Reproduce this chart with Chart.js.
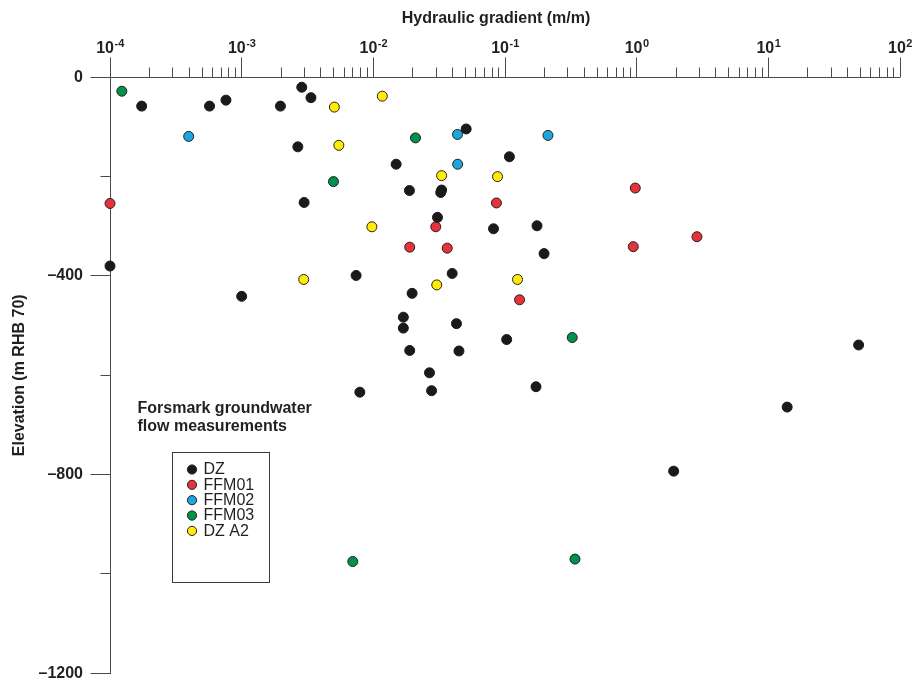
<!DOCTYPE html>
<html>
<head>
<meta charset="utf-8">
<script src="https://cdn.jsdelivr.net/npm/chart.js@4.4.1/dist/chart.umd.min.js"></script>
<style>
  html, body { margin: 0; padding: 0; background: #ffffff; }
  #wrap { width: 914px; height: 682px; }
</style>
</head>
<body>
<div id="wrap"><canvas id="chart" width="914" height="682"></canvas></div>
<script>
// Forsmark groundwater flow: hydraulic gradient (m/m) against elevation (m RHB 70)

const dzGradient = [1.74e-4, 5.7e-4, 7.6e-4, 1.97e-3, 2.86e-3, 3.36e-3, 2.67e-3, 0.0507, 0.108, 0.0149,
  2.98e-3, 0.0188, 0.033, 0.0325, 0.0307, 0.0818, 0.175, 0.198, 1.0e-4, 7.4e-3,
  0.0397, 1.0e-3, 0.0197, 0.0169, 0.0169, 0.0428, 0.103, 48.5, 0.0189, 0.0447,
  0.0267, 0.172, 7.9e-3, 0.0277, 13.9, 1.91];
const dzElevation = [-58, -58, -46, -58, -20, -41, -140, -104, -160, -175,
  -252, -228, -227, -232, -282, -305, -299, -355, -380, -399,
  -395, -441, -435, -483, -505, -496, -528, -539, -550, -551,
  -595, -623, -634, -631, -664, -793];

const ffm01Gradient = [1.0e-4, 0.976, 0.0861, 0.0298, 2.87, 0.0189, 0.0364, 0.942, 0.129];
const ffm01Elevation = [-254, -223, -253, -301, -321, -342, -344, -341, -448];

const ffm02Gradient = [3.96e-4, 0.0436, 0.212, 0.0437];
const ffm02Elevation = [-119, -115, -117, -175];

const ffm03Gradient = [1.23e-4, 0.0209, 4.98e-3, 0.324, 6.98e-3, 0.340];
const ffm03Elevation = [-28, -122, -210, -524, -975, -970];

const dzA2Gradient = [5.06e-3, 0.0117, 5.47e-3, 0.033, 0.0877, 9.75e-3, 2.96e-3, 0.0303, 0.1245];
const dzA2Elevation = [-60, -38, -137, -198, -200, -301, -407, -418, -407];

const seriesNames = ['DZ', 'FFM01', 'FFM02', 'FFM03', 'DZ A2'];
const seriesColors = ['#1a1a1a', '#e6333a', '#1ba6dd', '#00914a', '#ffec00'];

// Axis ticks and labels
const gradientDecades = [1e-4, 1e-3, 1e-2, 1e-1, 1e0, 1e1, 1e2];
const gradientDecadeExponents = ['-4', '-3', '-2', '-1', '0', '1', '2'];
const gradientMultipliers = [1, 2, 3, 4, 5, 6, 7, 8, 9];
const elevationTicks = [0, -400, -800, -1200];
const elevationTickLabels = ['0', '\u2013400', '\u2013800', '\u20131200'];
const elevationMinorTicks = [-200, -600, -1000];

const xTitle = 'Hydraulic gradient (m/m)';
const yTitle = 'Elevation (m RHB 70)';
const noteLines = ['Forsmark groundwater', 'flow measurements'];

const INK = '#231f20';
const AXIS = '#4a4a4a';
const FONT = "'Liberation Sans', Arial, Helvetica, sans-serif";

function pts(xs, ys) { return xs.map((v, i) => ({ x: v, y: ys[i] })); }

const seriesData = [
  pts(dzGradient, dzElevation),
  pts(ffm01Gradient, ffm01Elevation),
  pts(ffm02Gradient, ffm02Elevation),
  pts(ffm03Gradient, ffm03Elevation),
  pts(dzA2Gradient, dzA2Elevation)
];

const gradientTickValues = [];
gradientDecades.forEach((d, i) => {
  if (i === gradientDecades.length - 1) { gradientTickValues.push(d); return; }
  gradientMultipliers.forEach(m => gradientTickValues.push(m * d));
});

const crisp = v => Math.floor(v) + 0.5;

const frame = {
  id: 'frame',
  beforeDatasetsDraw(chart) {
    const { ctx, chartArea: a, scales: { x, y } } = chart;
    const top = crisp(a.top), left = crisp(a.left);
    ctx.save();
    ctx.strokeStyle = AXIS;
    ctx.lineWidth = 1;
    ctx.beginPath();
    // axis lines
    ctx.moveTo(left, top); ctx.lineTo(Math.ceil(a.right), top);
    ctx.moveTo(left, top); ctx.lineTo(left, Math.ceil(a.bottom));
    // gradient ticks (upwards)
    x.ticks.forEach(t => {
      const px = crisp(x.getPixelForValue(t.value));
      const len = t.major ? 20 : 10;
      ctx.moveTo(px, top); ctx.lineTo(px, top - len);
    });
    // elevation ticks (leftwards)
    y.ticks.forEach(t => {
      const py = crisp(y.getPixelForValue(t.value));
      const len = elevationTicks.includes(t.value) ? 20 : 10;
      ctx.moveTo(left, py); ctx.lineTo(left - len, py);
    });
    ctx.stroke();
    ctx.restore();
  },
  afterDraw(chart) {
    const { ctx, scales: { x } } = chart;
    ctx.save();
    ctx.fillStyle = INK;
    ctx.textBaseline = 'alphabetic';

    // axis title above the decade labels
    ctx.font = 'bold 16px ' + FONT;
    ctx.textAlign = 'center';
    ctx.fillText(xTitle, 496, 23);

    // decade labels with raised exponents
    ctx.textAlign = 'left';
    gradientDecades.forEach((d, i) => {
      const px = x.getPixelForValue(d);
      ctx.font = 'bold 16px ' + FONT;
      const wb = ctx.measureText('10').width;
      ctx.font = 'bold 11px ' + FONT;
      const we = ctx.measureText(gradientDecadeExponents[i]).width;
      const x0 = px - (wb + we) / 2;
      ctx.font = 'bold 16px ' + FONT;
      ctx.fillText('10', x0, 53);
      ctx.font = 'bold 11px ' + FONT;
      ctx.fillText(gradientDecadeExponents[i], x0 + wb + 0.5, 47);
    });

    // note
    ctx.font = 'bold 16px ' + FONT;
    noteLines.forEach((s, i) => ctx.fillText(s, 137.5, 412.5 + i * 18));

    // legend box
    ctx.strokeStyle = '#3a3a3a';
    ctx.lineWidth = 1;
    ctx.strokeRect(172.5, 452.5, 97, 130);
    ctx.font = '16px ' + FONT;
    ctx.textBaseline = 'middle';
    chart.data.datasets.forEach((ds, i) => {
      const cy = 469.5 + i * 15.35;
      ctx.beginPath();
      ctx.arc(192, cy, 4.6, 0, Math.PI * 2);
      ctx.fillStyle = ds.backgroundColor;
      ctx.fill();
      ctx.strokeStyle = INK;
      ctx.stroke();
      ctx.fillStyle = INK;
      ctx.fillText(ds.label, 203.5, cy + 0.5);
    });
    ctx.restore();
  }
};

new Chart(document.getElementById('chart'), {
  type: 'scatter',
  data: {
    datasets: seriesNames.map((name, i) => ({
      label: name,
      data: seriesData[i],
      backgroundColor: seriesColors[i],
      borderColor: i === 0 ? seriesColors[0] : INK,
      borderWidth: 1,
      pointRadius: 5,
      clip: false
    }))
  },
  options: {
    responsive: false,
    devicePixelRatio: 1,
    animation: false,
    events: [],
    layout: { padding: { left: 0, top: 0, right: 14, bottom: 8.7 } },
    plugins: { legend: { display: false }, tooltip: { enabled: false } },
    scales: {
      x: {
        type: 'logarithmic',
        position: 'top',
        min: 1e-4,
        max: 1e2,
        grid: { display: false, drawTicks: false },
        border: { display: false },
        ticks: { display: false },
        afterBuildTicks(s) {
          s.ticks = gradientTickValues.map(v => ({
            value: v,
            major: gradientDecades.some(d => Math.abs(d - v) / d < 1e-9)
          }));
        },
        afterFit(s) {
          s.height = 77.3;
          s.paddingLeft = 0; s.paddingRight = 0;
        }
      },
      y: {
        type: 'linear',
        min: -1200,
        max: 0,
        grid: { display: false, drawTicks: false },
        border: { display: false },
        afterBuildTicks(s) {
          s.ticks = elevationTicks.concat(elevationMinorTicks)
            .sort((a, b) => a - b).map(v => ({ value: v }));
        },
        ticks: {
          autoSkip: false,
          padding: 27,
          color: INK,
          font: { family: FONT, size: 16, weight: 'bold' },
          callback(v) {
            const k = elevationTicks.indexOf(v);
            return k >= 0 ? elevationTickLabels[k] : '';
          }
        },
        title: {
          display: true,
          text: yTitle,
          color: INK,
          font: { family: FONT, size: 16, weight: 'bold' },
          padding: { top: 10, bottom: 0 }
        },
        afterFit(s) {
          s.width = 110;
          s.paddingTop = 0; s.paddingBottom = 0;
        }
      }
    }
  },
  plugins: [frame]
});
</script>
</body>
</html>
